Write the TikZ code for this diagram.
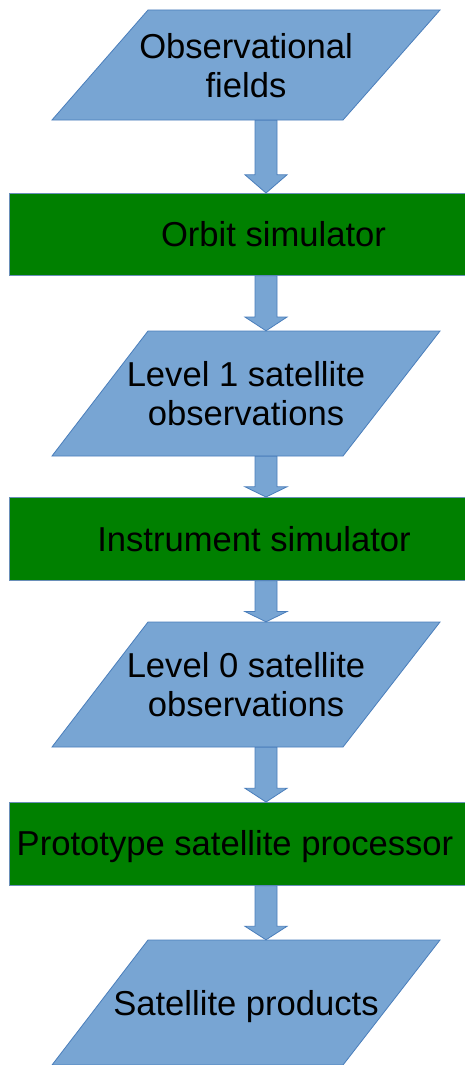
\documentclass[tikz,border=0pt]{standalone}
\usepackage{fontspec}
\setmainfont{Liberation Sans}
\usetikzlibrary{calc}
\definecolor{pfill}{HTML}{78A5D3}
\definecolor{pline}{HTML}{4A7EBB}
\definecolor{gfill}{HTML}{008000}
\definecolor{gline}{HTML}{6A8FB8}
\tikzset{
  ptext/.style={minimum width=292pt, inner sep=0pt, align=center, text depth=0pt,
    font=\fontsize{34.6}{39}\selectfont},
  pshape/.style={fill=pfill, draw=pline, line width=0.8pt, line join=miter},
  gbox/.style={fill=gfill, draw=gline, line width=0.8pt, minimum width=480pt,
    inner sep=0pt, anchor=north west},
  gtext/.style={inner sep=0pt, text depth=0pt, font=\fontsize{34.6}{39}\selectfont},
  fat/.style={fill=pfill, draw=pline, line width=0.8pt, line join=miter},
}
% name, cx, cy, h, text
\newcommand\pnode[5]{%
  \draw[pshape] ({#2-98},{#3-#4/2}) -- ({#2+194},{#3-#4/2}) --
    ({#2+97},{#3+#4/2}) -- ({#2-194},{#3+#4/2}) -- cycle;
  \node[ptext, minimum height=#4pt] (#1) at (#2,#3) {#5};
}
% block arrow from node #1 (bottom) to node #2 (top)
\newcommand\fatarrow[2]{%
  \draw[fat] let \p1=(#1.south), \p2=(#2.north), \n1={(\y1-\y2)*0.25} in
    (255pt,\y1) -- (277pt,\y1) -- (277pt,{\y2+\n1*1pt}) -- (287pt,{\y2+\n1*1pt})
    -- (266pt,\y2) -- (245pt,{\y2+\n1*1pt}) -- (255pt,{\y2+\n1*1pt}) -- cycle;
}
\begin{document}
\begin{tikzpicture}[x=1pt,y=-1pt]
  \clip (0,0) rectangle (465,1065);
  \fill[white] (0,0) rectangle (465,1065);

  \pnode{p1}{246}{65}{110}{Observational\\fields}
  \node[gbox, minimum height=82pt] (b1) at (9,193) {};
  \node[gtext] (b1t) at (273.5,234.4) {Orbit simulator};

  \pnode{p2}{246}{393.5}{125}{Level 1 satellite\\observations}
  \node[gbox, minimum height=83pt] (b2) at (9,497) {};
  \node[gtext] (b2t) at (254,538.5) {Instrument simulator};

  \pnode{p3}{246}{684.5}{125}{Level 0 satellite\\observations}
  \node[gbox, minimum height=83pt] (b3) at (9,802) {};
  \node[gtext] (b3t) at (235,843) {Prototype satellite processor};

  \pnode{p4}{246}{1002.5}{125}{Satellite products}

  \fatarrow{p1}{b1}
  \fatarrow{b1}{p2}
  \fatarrow{p2}{b2}
  \fatarrow{b2}{p3}
  \fatarrow{p3}{b3}
  \fatarrow{b3}{p4}
\end{tikzpicture}
\end{document}
